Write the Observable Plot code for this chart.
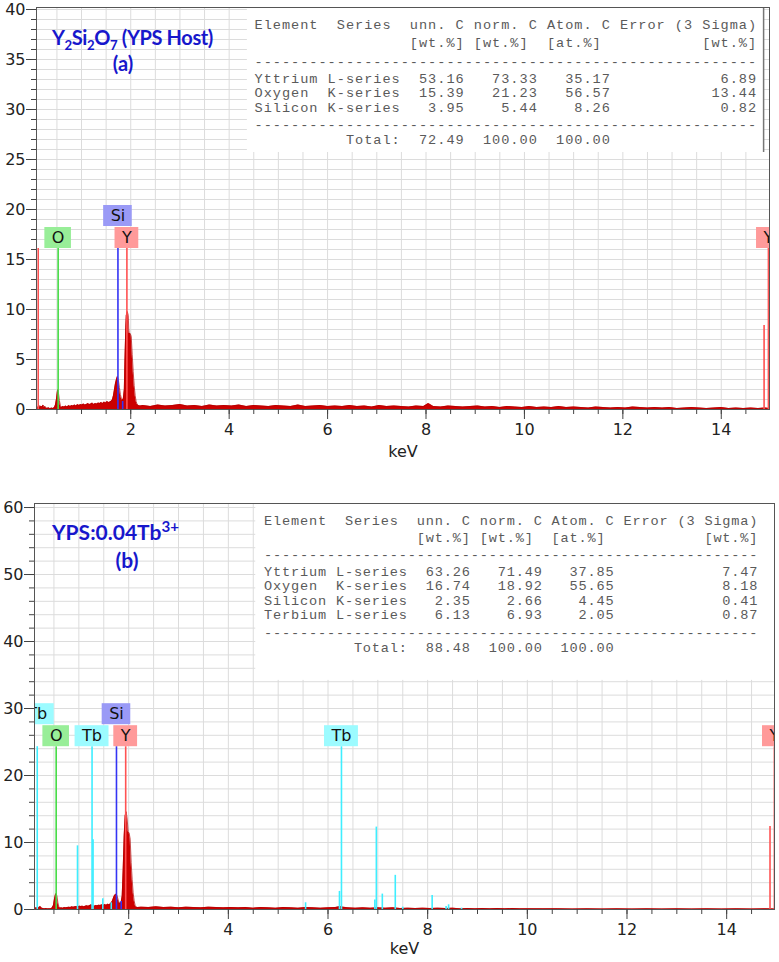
<!DOCTYPE html>
<html><head><meta charset="utf-8">
<script src="https://cdn.jsdelivr.net/npm/d3@7"></script>
<script src="https://cdn.jsdelivr.net/npm/@observablehq/plot@0.6"></script>
<style>
body{margin:0;background:#fff;}
#wrap{position:relative;width:779px;height:962px;overflow:hidden;}
.t{position:absolute;color:#1717cc;font-family:Lato,"Open Sans",sans-serif;font-weight:bold;font-size:21px;line-height:22px;white-space:nowrap;}
.t sub,.t sup{font-size:0.66em;line-height:0;}
.t sup{font-size:0.72em;}
.c{transform:translateX(-50%);}
#pa g[font-family*="Liberation"] text{letter-spacing:0.98px;}
#pb g[font-family*="Liberation"] text{letter-spacing:0.83px;}
</style></head>
<body><div id="wrap"><div id="pa"></div><div id="pb"></div>
<div class="t" style="left:52px;top:26px;font-size:20px;letter-spacing:-0.4px">Y<sub>2</sub>Si<sub>2</sub>O<sub>7</sub> (YPS Host)</div>
<div class="t c" style="left:123px;top:52px;font-size:20px">(a)</div>
<div class="t" style="left:52px;top:521px">YPS:0.04Tb<sup>3+</sup></div>
<div class="t c" style="left:127px;top:549px">(b)</div>
</div>
<script>
// ---------- data ----------
const specA = [[0.09,0],[0.10,0.3],[0.12,0.15],[0.14,0.4],[0.16,0.2],[0.18,0.35],[0.20,0.25],[0.22,0.45],[0.24,0.2],[0.26,0.3],[0.28,0.15],[0.30,0.1],[0.33,0.18],[0.36,0.08],[0.39,0.14],[0.42,0.1],[0.45,0.2],[0.47,0.45],[0.49,1.0],[0.51,1.8],[0.52,2.0],[0.53,1.7],[0.55,0.9],[0.57,0.4],[0.59,0.2],[0.62,0.3],[0.65,0.25],[0.68,0.35],[0.71,0.25],[0.74,0.4],[0.77,0.3],[0.80,0.4],[0.83,0.35],[0.86,0.45],[0.89,0.35],[0.92,0.5],[0.95,0.4],[0.98,0.5],[1.01,0.45],[1.04,0.55],[1.07,0.45],[1.10,0.5],[1.13,0.6],[1.16,0.5],[1.19,0.55],[1.22,0.65],[1.25,0.5],[1.28,0.6],[1.31,0.55],[1.34,0.65],[1.37,0.6],[1.40,0.7],[1.43,0.6],[1.46,0.75],[1.49,0.65],[1.52,0.8],[1.55,0.7],[1.58,0.75],[1.61,0.85],[1.63,1.0],[1.65,1.4],[1.67,2.0],[1.69,2.6],[1.71,3.0],[1.73,3.3],[1.75,2.9],[1.77,2.2],[1.79,1.5],[1.81,1.1],[1.83,0.9],[1.85,1.1],[1.87,2.0],[1.88,4.5],[1.90,8.2],[1.91,9.4],[1.93,9.8],[1.95,9.4],[1.96,8.0],[1.97,7.6],[1.99,7.6],[2.01,7.3],[2.03,5.5],[2.05,3.8],[2.07,2.4],[2.09,1.4],[2.11,0.8],[2.13,0.5],[2.16,0.4],[2.19,0.35],[2.25,0.4],[2.4,0.3],[2.55,0.45],[2.7,0.35],[2.85,0.4],[3.0,0.5],[3.15,0.35],[3.3,0.4],[3.45,0.3],[3.6,0.45],[3.75,0.35],[3.9,0.4],[4.05,0.35],[4.2,0.45],[4.35,0.3],[4.5,0.4],[4.65,0.35],[4.8,0.3],[4.95,0.4],[5.1,0.35],[5.25,0.3],[5.4,0.45],[5.55,0.3],[5.7,0.35],[5.85,0.4],[6.0,0.3],[6.15,0.35],[6.3,0.3],[6.45,0.4],[6.6,0.3],[6.75,0.35],[6.9,0.25],[7.05,0.4],[7.2,0.3],[7.35,0.35],[7.5,0.3],[7.65,0.25],[7.8,0.35],[7.95,0.3],[8.05,0.6],[8.15,0.3],[8.3,0.25],[8.45,0.35],[8.6,0.3],[8.75,0.25],[8.9,0.3],[9.05,0.35],[9.2,0.25],[9.35,0.3],[9.5,0.2],[9.65,0.3],[9.8,0.25],[9.95,0.2],[10.1,0.3],[10.25,0.2],[10.4,0.25],[10.55,0.2],[10.7,0.3],[10.85,0.2],[11.0,0.25],[11.15,0.2],[11.3,0.15],[11.45,0.25],[11.6,0.2],[11.75,0.15],[11.9,0.2],[12.05,0.15],[12.2,0.25],[12.35,0.2],[12.5,0.15],[12.65,0.2],[12.8,0.15],[12.95,0.2],[13.1,0.1],[13.25,0.15],[13.4,0.2],[13.55,0.15],[13.7,0.1],[13.85,0.15],[14.0,0.2],[14.15,0.1],[14.3,0.15],[14.45,0.1],[14.6,0.15],[14.75,0.1],[14.9,0.15],[14.98,0.1]];

const specB = [[0.11,0],[0.12,0.3],[0.14,0.2],[0.16,0.25],[0.18,0.15],[0.20,0.3],[0.22,0.45],[0.24,0.35],[0.26,0.2],[0.28,0.15],[0.31,0.1],[0.34,0.15],[0.37,0.1],[0.40,0.12],[0.43,0.1],[0.46,0.2],[0.49,0.6],[0.51,1.5],[0.53,2.2],[0.545,2.4],[0.56,2.0],[0.58,1.0],[0.60,0.4],[0.62,0.2],[0.65,0.25],[0.68,0.2],[0.71,0.3],[0.74,0.25],[0.77,0.3],[0.80,0.35],[0.83,0.3],[0.86,0.4],[0.89,0.35],[0.92,0.4],[0.95,0.45],[0.98,0.4],[1.01,0.5],[1.04,0.45],[1.07,0.5],[1.10,0.4],[1.13,0.5],[1.16,0.55],[1.19,0.5],[1.22,0.6],[1.25,0.7],[1.28,0.55],[1.31,0.5],[1.34,0.6],[1.37,0.55],[1.40,0.65],[1.43,0.6],[1.46,0.7],[1.49,0.6],[1.52,0.75],[1.55,0.65],[1.58,0.8],[1.61,0.7],[1.64,0.9],[1.67,1.2],[1.69,1.6],[1.71,2.0],[1.73,2.2],[1.75,2.3],[1.77,2.0],[1.79,1.4],[1.81,1.0],[1.83,0.9],[1.85,1.1],[1.87,2.0],[1.89,6.0],[1.91,11.0],[1.93,14.0],[1.95,14.6],[1.97,13.5],[1.99,11.6],[2.01,11.4],[2.03,10.5],[2.05,7.0],[2.07,4.5],[2.09,2.5],[2.11,1.3],[2.13,0.6],[2.15,0.35],[2.18,0.3],[2.25,0.35],[2.4,0.3],[2.55,0.4],[2.7,0.3],[2.85,0.35],[3.0,0.25],[3.15,0.35],[3.3,0.3],[3.45,0.25],[3.6,0.35],[3.75,0.3],[3.9,0.25],[4.05,0.3],[4.2,0.25],[4.35,0.3],[4.5,0.2],[4.65,0.3],[4.8,0.25],[4.95,0.2],[5.1,0.3],[5.25,0.25],[5.4,0.2],[5.55,0.3],[5.7,0.25],[5.85,0.2],[6.0,0.25],[6.15,0.3],[6.25,0.45],[6.3,0.35],[6.4,0.25],[6.55,0.2],[6.7,0.25],[6.85,0.2],[7.0,0.25],[7.15,0.2],[7.3,0.25],[7.45,0.15],[7.6,0.2],[7.75,0.15],[7.9,0.2],[8.05,0.15],[8.2,0.2],[8.35,0.15],[8.5,0.2],[8.65,0.1],[8.8,0.15],[8.95,0.1],[9.1,0.15],[9.25,0.1],[9.4,0.15],[9.55,0.1],[9.7,0.15],[9.85,0.1],[10.0,0.12],[10.3,0.1],[10.6,0.12],[10.9,0.08],[11.2,0.1],[11.5,0.08],[11.8,0.1],[12.1,0.08],[12.4,0.1],[12.7,0.08],[13.0,0.1],[13.3,0.08],[13.6,0.1],[13.9,0.08],[14.2,0.1],[14.5,0.08],[14.8,0.1],[14.96,0.08]];

// element marker lines (row = label row, null = no label)
const markersA = [{el:"Y",keV:0.12,row:null},{el:"O",keV:0.525,row:0},{el:"Si",keV:1.74,row:1},{el:"Y",keV:1.922,row:0},{el:"Y",keV:14.958,row:0}];
const markersB = [{el:"Tb",keV:0.165,row:1},{el:"O",keV:0.545,row:0},{el:"Tb",keV:1.265,row:0},{el:"Si",keV:1.755,row:1},{el:"Y",keV:1.94,row:0},{el:"Tb",keV:6.27,row:0},{el:"Y",keV:14.958,row:0}];
const markerLevelA = 16.1;
const markerLevelB = 24.3;
// individual emission lines
const linesA = [{el:"Si",keV:1.836,h:0.8},{el:"Y",keV:14.87,h:8.4}];
const linesB = [{el:"Tb",keV:0.973,h:9.5},{el:"Tb",keV:1.285,h:10.4},{el:"Tb",keV:1.48,h:1.6},{el:"Tb",keV:1.65,h:1.0},{el:"Si",keV:1.85,h:1.2},{el:"Tb",keV:5.55,h:1.0},{el:"Tb",keV:6.23,h:2.7},{el:"Tb",keV:6.94,h:1.4},{el:"Tb",keV:6.97,h:12.3},{el:"Tb",keV:7.09,h:2.3},{el:"Tb",keV:7.35,h:5.1},{el:"Tb",keV:7.50,h:0.35},{el:"Tb",keV:8.09,h:2.1},{el:"Tb",keV:8.37,h:0.45},{el:"Tb",keV:8.42,h:0.7},{el:"Tb",keV:8.68,h:0.2},{el:"Y",keV:14.87,h:12.4}];

// quantification tables
const tabElemA = ["Yttrium","Oxygen","Silicon"];
const tabSeriesA = ["L-series","K-series","K-series"];
const tabUnnA = [53.16,15.39,3.95];
const tabNormA = [73.33,21.23,5.44];
const tabAtomA = [35.17,56.57,8.26];
const tabErrA = [6.89,13.44,0.82];
const tabTotalA = [72.49,100.00,100.00];

const tabElemB = ["Yttrium","Oxygen","Silicon","Terbium"];
const tabSeriesB = ["L-series","K-series","K-series","L-series"];
const tabUnnB = [63.26,16.74,2.35,6.13];
const tabNormB = [71.49,18.92,2.66,6.93];
const tabAtomB = [37.85,55.65,4.45,2.05];
const tabErrB = [7.47,8.18,0.41,0.87];
const tabTotalB = [88.48,100.00,100.00];

// ticks
const xMajor = [2,4,6,8,10,12,14];
const yMajorA = [0,5,10,15,20,25,30,35,40];
const yMajorB = [0,10,20,30,40,50,60];

// ---------- style ----------
const lineColor = {O:"#46dc46", Si:"#3434f4", Y:"#ff5252", Tb:"#3eeeff"};
const boxColor = {O:"#98ee98", Si:"#9a9af6", Y:"#ff9a9a", Tb:"#9cfbff"};

function buildTable(el, se, unn, norm, atom, err, tot) {
  const f = v => v.toFixed(2);
  const lines = [];
  lines.push("Element  Series  unn. C norm. C Atom. C Error (3 Sigma)");
  lines.push(" ".repeat(17) + "[wt.%] [wt.%]  [at.%]" + " ".repeat(11) + "[wt.%]");
  lines.push("-".repeat(55));
  el.forEach((e, i) => {
    lines.push(e.padEnd(8) + se[i] + f(unn[i]).padStart(7) + f(norm[i]).padStart(8) + f(atom[i]).padStart(8) + f(err[i]).padStart(16));
  });
  lines.push("-".repeat(55));
  lines.push("Total:".padStart(16) + f(tot[0]).padStart(7) + f(tot[1]).padStart(8) + f(tot[2]).padStart(8));
  return lines.map(s => s.replace(/ /g, "\u00a0"));
}

const ctx = document.createElement("canvas").getContext("2d");
ctx.font = "16px 'DejaVu Sans'";

function panel(o) {
  const width = 779;
  const plotW = width - o.marginLeft - o.marginRight;
  const plotH = o.height - o.marginTop - o.marginBottom;
  const kpp = (o.xDomain[1] - o.xDomain[0]) / plotW;
  const upp = (o.yDomain[1] - o.yDomain[0]) / plotH;
  const boxH = 21 * upp, gap = 1 * upp;
  const labels = o.markers.filter(d => d.row != null).map(d => {
    const w = ctx.measureText(d.el).width + 14;
    const y1 = o.level + d.row * (boxH + gap);
    return {...d, x1: d.keV - w / 2 * kpp, x2: d.keV + w / 2 * kpp, y1, y2: y1 + boxH, yc: y1 + boxH / 2};
  });
  const xMinor = d3.range(0.5, 15, 0.5);
  const tableMarks = o.table.map((t, i) => Plot.text([t], {frameAnchor: "top-left", dx: o.tableDx, dy: o.tableDy[i], text: d => d,
    textAnchor: "start", lineAnchor: "middle", fontFamily: "'Liberation Mono'", fontSize: 13.6, fill: "#5a5a5a"}));
  return Plot.plot({
    width, height: o.height,
    marginLeft: o.marginLeft, marginRight: o.marginRight, marginTop: o.marginTop, marginBottom: o.marginBottom,
    x: {domain: o.xDomain},
    y: {domain: o.yDomain},
    color: {type: "identity"},
    style: {fontFamily: "'DejaVu Sans'", fontSize: "16px", color: "#222", background: "#fff"},
    marks: [
      Plot.gridX(xMinor, {stroke: "#dcdcdc", strokeOpacity: 1}),
      Plot.gridY(o.yGrid, {stroke: "#dcdcdc", strokeOpacity: 1}),
      Plot.rect([o.box], {x1: "x1", x2: "x2", y1: "y1", y2: "y2", fill: "#fff"}),
      o.boxBorder ? Plot.ruleX([o.box.x2], {y1: o.box.y1, y2: o.box.y2, stroke: "#777", strokeWidth: 1.5}) : null,
      Plot.areaY(o.spec, {x: d => d[0], y: d => d[1], fill: "#cc0000", curve: "linear", clip: true}),
      Plot.lineY(o.spec, {x: d => d[0], y: d => d[1], stroke: "#b00000", strokeWidth: 0.7, clip: true}),
      Plot.ruleX(o.markers, {x: "keV", y1: 0, y2: o.level, stroke: d => lineColor[d.el], strokeWidth: 1.6, clip: true}),
      Plot.ruleX(o.lines, {x: "keV", y1: 0, y2: "h", stroke: d => lineColor[d.el], strokeWidth: 1.6, clip: true}),
      Plot.rect(labels, {x1: "x1", x2: "x2", y1: "y1", y2: "y2", fill: d => boxColor[d.el], clip: true}),
      Plot.text(labels, {x: "keV", y: "yc", text: "el", fill: "#111", fontSize: 16, lineAnchor: "middle", clip: true}),
      ...tableMarks,
      Plot.frame({stroke: "#555"}),
      Plot.axisY(o.yMajor, {tickSize: 10, tickPadding: 1, stroke: "#444", label: null}),
      Plot.axisY(o.yGrid, {tickSize: 5, text: null, stroke: "#444", label: null}),
      Plot.axisX(xMajor, {tickSize: 10, tickPadding: 4, stroke: "#444", label: null}),
      Plot.axisX(xMinor, {tickSize: 5, text: null, stroke: "#444", label: null}),
      Plot.text(["keV"], {frameAnchor: "bottom", dy: o.keVdy, text: d => d, lineAnchor: "middle", fontSize: 16})
    ]
  });
}

const tableA = buildTable(tabElemA, tabSeriesA, tabUnnA, tabNormA, tabAtomA, tabErrA, tabTotalA);
const tableB = buildTable(tabElemB, tabSeriesB, tabUnnB, tabNormB, tabAtomB, tabErrB, tabTotalB);

document.getElementById("pa").appendChild(panel({
  spec: specA, markers: markersA, lines: linesA, level: markerLevelA, table: tableA,
  height: 470, marginTop: 7, marginBottom: 61, marginLeft: 36, marginRight: 10,
  xDomain: [0.085, 14.98], yDomain: [0, 40.2], yMajor: yMajorA, yGrid: d3.range(0, 41, 1),
  box: {x1: 4.37, x2: 14.86, y1: 25.7, y2: 40.2}, boxBorder: true,
  tableDx: 218, tableDy: [17, 35, 54, 71, 85.5, 100, 117, 132], keVdy: 42
}));
document.getElementById("pb").appendChild(panel({
  spec: specB, markers: markersB, lines: linesB, level: markerLevelB, table: tableB,
  height: 492, marginTop: 33, marginBottom: 53, marginLeft: 34, marginRight: 5,
  xDomain: [0.11, 14.96], yDomain: [0, 60.6], yMajor: yMajorB, yGrid: d3.range(0, 61, 2),
  box: {x1: 4.55, x2: 14.96, y1: 34.2, y2: 60.6}, boxBorder: false,
  tableDx: 229.5, tableDy: [17, 34, 51, 68, 82.5, 97, 111.5, 129, 144], keVdy: 39
}));
</script>
</body></html>
